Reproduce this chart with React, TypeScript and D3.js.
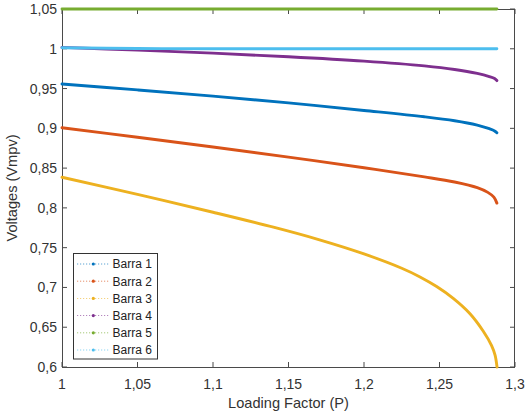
import React from "react";
import * as d3 from "d3";

// Loading factor samples (P) and bus voltages (p.u.) along the continuation path
const barra1P = [1, 1.05, 1.1, 1.15, 1.2, 1.24, 1.26, 1.275, 1.283, 1.2865, 1.288];
const barra1V = [0.9557, 0.9483, 0.9405, 0.932, 0.9225, 0.9145, 0.9095, 0.904, 0.8995, 0.8968, 0.8945];

const barra2P = [1, 1.05, 1.1, 1.15, 1.2, 1.24, 1.26, 1.275, 1.282, 1.286, 1.288];
const barra2V = [0.9008, 0.8888, 0.8765, 0.8638, 0.8505, 0.839, 0.8325, 0.8255, 0.8195, 0.8135, 0.806];

const barra3P = [1, 1.05, 1.1, 1.14, 1.17, 1.2, 1.225, 1.2371, 1.2481, 1.2591, 1.2702, 1.279, 1.2845, 1.2868, 1.2881];
const barra3V = [0.8385, 0.817, 0.7945, 0.7757, 0.7601, 0.7421, 0.7241, 0.7132, 0.7011, 0.6863, 0.667, 0.645, 0.627, 0.615, 0.6];

const barra4P = [1, 1.05, 1.1, 1.15, 1.2, 1.24, 1.26, 1.275, 1.283, 1.2865, 1.288];
const barra4V = [1.0018, 0.9983, 0.9945, 0.99, 0.9845, 0.9785, 0.974, 0.969, 0.965, 0.9625, 0.96];

const barra5P = [1, 1.288];
const barra5V = [1.05, 1.05];

const barra6P = [1, 1.05, 1.1, 1.2, 1.288];
const barra6V = [1.0012, 1.0003, 1.0, 1.0, 1.0];

const seriesNames = ["Barra 1", "Barra 2", "Barra 3", "Barra 4", "Barra 5", "Barra 6"];
const seriesColors = ["#0072BD", "#D95319", "#EDB120", "#7E2F8E", "#77AC30", "#4DBEEE"];
const seriesP = [barra1P, barra2P, barra3P, barra4P, barra5P, barra6P];
const seriesV = [barra1V, barra2V, barra3V, barra4V, barra5V, barra6V];

const xTicks = [1, 1.05, 1.1, 1.15, 1.2, 1.25, 1.3];
const yTicks = [0.6, 0.65, 0.7, 0.75, 0.8, 0.85, 0.9, 0.95, 1, 1.05];

const W = 526;
const H = 414;
const m = { left: 62, right: 11, top: 9, bottom: 47 };

const fmt = (v: number) => String(+v.toFixed(2)).replace(".", ",");

export default function App() {
  const x = d3.scaleLinear().domain([1, 1.3]).range([m.left, W - m.right]);
  const y = d3.scaleLinear().domain([0.6, 1.05]).range([H - m.bottom, m.top]);
  const line = d3
    .line<[number, number]>()
    .x((d) => x(d[0]))
    .y((d) => y(d[1]))
    .curve(d3.curveCatmullRom.alpha(0.5));

  const x0 = m.left;
  const x1 = W - m.right;
  const y0 = H - m.bottom;
  const y1 = m.top;
  const axisColor = "#4a4a4a";
  const textColor = "#333";
  const font = "'Liberation Sans', Arial, sans-serif";
  const tick = 5;

  const legend = { x: 73.5, y: 253.5, w: 84, h: 105.5, row: 17.2 };

  return (
    <svg
      width={W}
      height={H}
      style={{ position: "fixed", left: 0, top: 0, background: "#fff" }}
      fontFamily={font}
    >
      <rect x={0} y={0} width={W} height={H} fill="#fff" />

      {/* axes box */}
      <g stroke={axisColor} strokeWidth={1} fill="none">
        <line x1={x0} y1={y0 + 0.5} x2={x1} y2={y0 + 0.5} />
        <line x1={x0} y1={y1 + 0.5} x2={x1} y2={y1 + 0.5} />
        <line x1={x0 + 0.5} y1={y1} x2={x0 + 0.5} y2={y0} />
        <line x1={x1 - 0.5} y1={y1} x2={x1 - 0.5} y2={y0} />
        {xTicks.map((t) => (
          <g key={"xt" + t}>
            <line x1={x(t)} x2={x(t)} y1={y0} y2={y0 - tick} />
            <line x1={x(t)} x2={x(t)} y1={y1} y2={y1 + tick} />
          </g>
        ))}
        {yTicks.map((t) => (
          <g key={"yt" + t}>
            <line x1={x0} x2={x0 + tick} y1={y(t)} y2={y(t)} />
            <line x1={x1} x2={x1 - tick} y1={y(t)} y2={y(t)} />
          </g>
        ))}
      </g>

      {/* tick labels */}
      <g fill={textColor} fontSize={14}>
        {xTicks.map((t) => (
          <text key={"xl" + t} x={x(t)} y={389} textAnchor="middle">
            {fmt(t)}
          </text>
        ))}
        {yTicks.map((t) => (
          <text key={"yl" + t} x={57} y={y(t) + 5} textAnchor="end">
            {fmt(t)}
          </text>
        ))}
      </g>

      {/* axis titles */}
      <text x={(x0 + x1) / 2} y={408} textAnchor="middle" fontSize={14.6} fill={textColor}>
        Loading Factor (P)
      </text>
      <text
        transform={`translate(17,${(y0 + y1) / 2}) rotate(-90)`}
        textAnchor="middle"
        fontSize={14.6}
        fill={textColor}
      >
        Voltages (Vmpv)
      </text>

      {/* voltage curves */}
      <g fill="none" strokeLinecap="round" strokeLinejoin="round">
        {seriesNames.map((name, i) => {
          const pts = seriesP[i].map((p, k) => [p, seriesV[i][k]] as [number, number]);
          return (
            <path key={name} d={line(pts) || ""} stroke={seriesColors[i]} strokeWidth={2.9} />
          );
        })}
      </g>

      {/* legend */}
      <g>
        <rect
          x={legend.x}
          y={legend.y}
          width={legend.w}
          height={legend.h}
          fill="#fff"
          stroke="#333"
          strokeWidth={1}
        />
        {seriesNames.map((name, i) => {
          const cy = 264 + i * legend.row;
          return (
            <g key={"lg" + name}>
              <line
                x1={77}
                x2={109}
                y1={cy}
                y2={cy}
                stroke={seriesColors[i]}
                strokeWidth={0.8}
                strokeDasharray="1.2,1.8"
                opacity={0.8}
              />
              <circle cx={93.3} cy={cy} r={1.6} fill={seriesColors[i]} />
              <text x={112.5} y={cy + 4.3} fontSize={12} fill="#222">
                {name}
              </text>
            </g>
          );
        })}
      </g>
    </svg>
  );
}
